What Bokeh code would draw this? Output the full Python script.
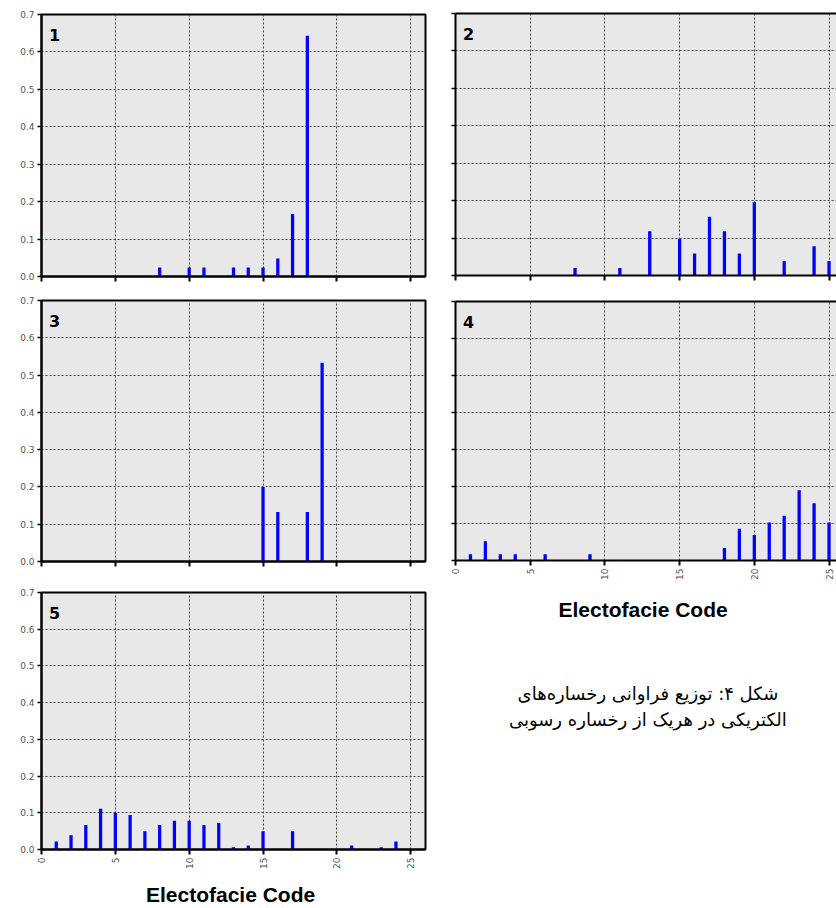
import math
from bokeh.plotting import figure
from bokeh.layouts import row, column
from bokeh.models import (Range1d, FixedTicker, PrintfTickFormatter, Label,
                          LinearAxis)
from bokeh.embed import file_html
from bokeh.resources import INLINE

# ---- data: relative frequency of electrofacies codes per sedimentary facies ----
codes1 = [8, 10, 11, 13, 14, 15, 16, 17, 18]
freq1 = [0.024, 0.024, 0.024, 0.024, 0.024, 0.024, 0.048, 0.167, 0.643]

codes2 = [8, 11, 13, 15, 16, 17, 18, 19, 20, 22, 24, 25]
freq2 = [0.020, 0.020, 0.118, 0.098, 0.059, 0.157, 0.118, 0.059, 0.196, 0.039, 0.078, 0.039]

codes3 = [15, 16, 18, 19]
freq3 = [0.200, 0.133, 0.133, 0.533]

codes4 = [1, 2, 3, 4, 6, 9, 18, 19, 20, 21, 22, 23, 24, 25]
freq4 = [0.017, 0.052, 0.017, 0.017, 0.017, 0.017, 0.034, 0.086, 0.069, 0.103,
         0.121, 0.190, 0.155, 0.103]

codes5 = [1, 2, 3, 4, 5, 6, 7, 8, 9, 10, 11, 12, 13, 14, 15, 17, 21, 23, 24]
freq5 = [0.022, 0.039, 0.067, 0.111, 0.100, 0.094, 0.050, 0.067, 0.078, 0.078,
         0.067, 0.072, 0.006, 0.011, 0.050, 0.050, 0.011, 0.006, 0.022]

panel_names = ["1", "2", "3", "4", "5"]
x_ticks = [0, 5, 10, 15, 20, 25]
y_ticks = [0.0, 0.1, 0.2, 0.3, 0.4, 0.5, 0.6, 0.7]
x_title = "Electofacie  Code"
caption_lines = ["شکل ۴: توزیع فراوانی رخساره\u200cهای",
                 "الکتریکی در هریک از رخساره رسوبی"]

BG = "#e8e8e8"
BAR = "#0000ff"
TICK_FONT = "DejaVu Sans"


def hide_labels(ax):
    # keep tick marks, draw no tick labels and reserve (almost) no space
    ax.major_label_text_font_size = "1px"
    ax.major_label_text_color = None
    ax.major_label_standoff = 0


def make_panel(codes, freq, name, width, height, mb_left, mb_right, mb_top,
               mb_bottom, xmax, left_labels, bottom_labels, right_border,
               axis_standoff=15):
    p = figure(width=width, height=height, output_backend="svg",
               toolbar_location=None, x_range=Range1d(0, xmax),
               y_range=Range1d(0, 0.7), min_border_left=mb_left,
               min_border_right=mb_right, min_border_top=mb_top,
               min_border_bottom=mb_bottom, background_fill_color=BG,
               border_fill_color="white")
    p.vbar(x=codes, top=freq, bottom=0, width=0.22, fill_color=BAR,
           line_color=None)

    # grid
    p.xgrid.ticker = FixedTicker(ticks=x_ticks)
    p.ygrid.ticker = FixedTicker(ticks=y_ticks)
    for g in (p.xgrid[0], p.ygrid[0]):
        g.grid_line_color = "#444444"
        g.grid_line_dash = "2 2"
        g.grid_line_width = 1

    # x axis
    xa = p.below[0]
    xa.ticker = FixedTicker(ticks=x_ticks)
    xa.axis_line_width = 2
    xa.axis_line_color = "black"
    xa.major_tick_out = 5
    xa.major_tick_in = 0
    xa.major_tick_line_width = 2
    xa.minor_tick_line_color = None
    if bottom_labels:
        xa.major_label_orientation = math.pi / 2
        xa.major_label_text_font = TICK_FONT
        xa.major_label_text_font_size = "9px"
        xa.major_label_text_color = "#555555"
        xa.major_label_standoff = 3
        xa.axis_label = x_title
        xa.axis_label_text_font = "Liberation Sans"
        xa.axis_label_text_font_style = "bold"
        xa.axis_label_text_font_size = "21px"
        xa.axis_label_text_color = "black"
        xa.axis_label_standoff = axis_standoff
    else:
        hide_labels(xa)

    # y axis
    ya = p.left[0]
    ya.ticker = FixedTicker(ticks=y_ticks)
    ya.formatter = PrintfTickFormatter(format="%.1f")
    ya.axis_line_width = 2
    ya.axis_line_color = "black"
    ya.major_tick_out = 4
    ya.major_tick_in = 0
    ya.major_tick_line_width = 1.5
    ya.minor_tick_line_color = None
    if left_labels:
        ya.major_label_text_font = TICK_FONT
        ya.major_label_text_font_size = "9px"
        ya.major_label_text_color = "#555555"
        ya.major_label_standoff = 3
    else:
        hide_labels(ya)

    if right_border:
        p.outline_line_color = "black"
        p.outline_line_width = 2
        p.outline_line_alpha = 1
    else:
        p.outline_line_color = None
        top_axis = LinearAxis(axis_line_width=2, axis_line_color="black",
                              major_tick_line_color=None,
                              minor_tick_line_color=None)
        hide_labels(top_axis)
        p.add_layout(top_axis, "above")

    p.add_layout(Label(x=0.5, y=0.645, text=name, text_font="DejaVu Sans",
                       text_font_style="bold", text_font_size="16px",
                       text_color="black", text_baseline="alphabetic",
                       text_align="left"))
    return p


# left column (width 430)
p1 = make_panel(codes1, freq1, panel_names[0], 430, 14 + 262 + 12, 37, 5, 14, 12,
                26, True, False, True)
p3 = make_panel(codes3, freq3, panel_names[2], 430, 12 + 261 + 21, 40, 2, 12, 21,
                26, True, False, True)
p5 = make_panel(codes5, freq5, panel_names[4], 430, 10 + 260 + 56, 41, 1, 10, 56,
                26, True, True, True, axis_standoff=11)

# right column (width 406)
p2 = make_panel(codes2, freq2, panel_names[1], 406, 13 + 262 + 13, 25, 0, 13, 13,
                25.5, False, False, False)
p4 = make_panel(codes4, freq4, panel_names[3], 406, 13 + 261 + 61, 25, 0, 13, 61,
                25.5, False, True, False, axis_standoff=15)

# caption panel
pt = figure(width=406, height=285, output_backend="svg", toolbar_location=None,
            x_range=Range1d(0, 1), y_range=Range1d(0, 1), min_border=0,
            background_fill_color="white", border_fill_color="white")
pt.axis.visible = False
pt.grid.visible = False
pt.outline_line_color = None
for yy, line in zip([0.754, 0.663], caption_lines):
    pt.add_layout(Label(x=0.505, y=yy, text=line, text_font="DejaVu Sans",
                        text_font_size="18px", text_color="black",
                        text_align="center", text_baseline="middle"))

layout = row(column(p1, p3, p5), column(p2, p4, pt))

open("out.html", "w").write(file_html(layout, INLINE))
